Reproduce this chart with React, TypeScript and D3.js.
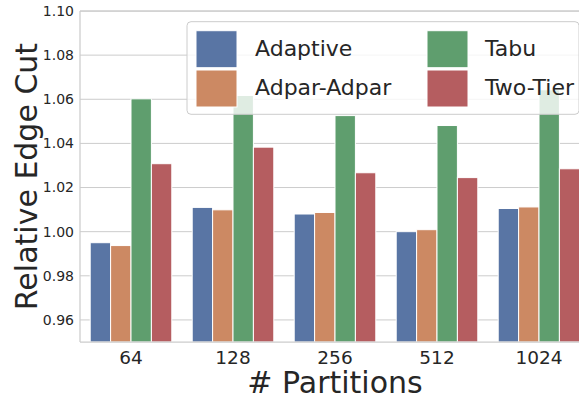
import React from "react";
import * as d3 from "d3";

const partitions = ["64", "128", "256", "512", "1024"];
const methods = ["Adaptive", "Adpar-Adpar", "Tabu", "Two-Tier"];
const adaptive = [0.995, 1.011, 1.008, 1.0, 1.0105];
const adparAdpar = [0.9937, 1.0099, 1.0087, 1.0009, 1.0112];
const tabu = [1.0602, 1.0617, 1.0526, 1.0481, 1.0643];
const twoTier = [1.0308, 1.0383, 1.0267, 1.0245, 1.0285];
const yTicks = [0.96, 0.98, 1.0, 1.02, 1.04, 1.06, 1.08, 1.1];
const colors = ["#5975A4", "#CC8963", "#5F9E6E", "#B55D60"];

const W = 579;
const H = 396;
const FONT = "DejaVu Sans, sans-serif";
const TEXT = "#262626";
const GRID = "#cccccc";

export default function App() {
  const series = [adaptive, adparAdpar, tabu, twoTier];
  const left = 80;
  const right = 590;
  const top = 11;
  const bottom = 342;

  const x = d3.scaleBand<string>().domain(partitions).range([left, right]).paddingInner(0.2).paddingOuter(0.1);
  const xInner = d3.scaleBand<string>().domain(methods).range([0, x.bandwidth()]);
  const y = d3.scaleLinear().domain([0.95, 1.1]).range([bottom, top]);

  return (
    <svg
      width={W}
      height={H}
      style={{ position: "fixed", left: 0, top: 0, background: "#fff", display: "block" }}
      fontFamily={FONT}
    >
      <rect x={0} y={0} width={W} height={H} fill="#fff" />
      {/* horizontal grid */}
      {yTicks.map((t) => (
        <line key={t} x1={left} x2={right} y1={y(t)} y2={y(t)} stroke={GRID} strokeWidth={1} />
      ))}
      {/* bars */}
      {methods.map((m, mi) =>
        partitions.map((p, pi) => {
          const v = series[mi][pi];
          const bx = (x(p) as number) + (xInner(m) as number);
          return (
            <rect
              key={m + p}
              x={bx}
              y={y(v)}
              width={xInner.bandwidth()}
              height={y(0.95) - y(v)}
              fill={colors[mi]}
              stroke="#fff"
              strokeWidth={1}
            />
          );
        })
      )}
      {/* spines */}
      <line x1={left} x2={left} y1={top} y2={bottom} stroke={GRID} strokeWidth={1.25} />
      <line x1={left} x2={right} y1={bottom} y2={bottom} stroke={GRID} strokeWidth={1.25} />
      <line x1={left} x2={right} y1={top} y2={top} stroke={GRID} strokeWidth={1.25} />
      {/* y tick labels */}
      {yTicks.map((t) => (
        <text key={t} x={left - 6} y={y(t)} dy="0.35em" textAnchor="end" fontSize={14} fill={TEXT}>
          {d3.format(".2f")(t)}
        </text>
      ))}
      {/* x tick labels */}
      {partitions.map((p) => (
        <text
          key={p}
          x={(x(p) as number) + x.bandwidth() / 2}
          y={364}
          textAnchor="middle"
          fontSize={18.5}
          fill={TEXT}
        >
          {p}
        </text>
      ))}
      {/* axis titles */}
      <text x={(left + right) / 2} y={392.5} textAnchor="middle" fontSize={30} fill={TEXT}>
        # Partitions
      </text>
      <text
        transform={`translate(37, ${(top + bottom) / 2}) rotate(-90)`}
        textAnchor="middle"
        fontSize={30}
        fill={TEXT}
      >
        Relative Edge Cut
      </text>
      {/* legend */}
      <g>
        <rect x={187} y={21.7} width={392} height={92.6} rx={4} fill="#fff" fillOpacity={0.8} stroke={GRID} strokeWidth={1} />
        {methods.map((m, i) => {
          const col = Math.floor(i / 2);
          const row = i % 2;
          const px = col === 0 ? 196 : 427;
          const tx = col === 0 ? 255 : 485;
          const py = row === 0 ? 30.7 : 70;
          return (
            <g key={m}>
              <rect x={px} y={py} width={41} height={37} fill={colors[i]} stroke="#fff" strokeWidth={1} />
              <text x={tx} y={py + 25} fontSize={22} fill={TEXT}>
                {m}
              </text>
            </g>
          );
        })}
      </g>
    </svg>
  );
}
